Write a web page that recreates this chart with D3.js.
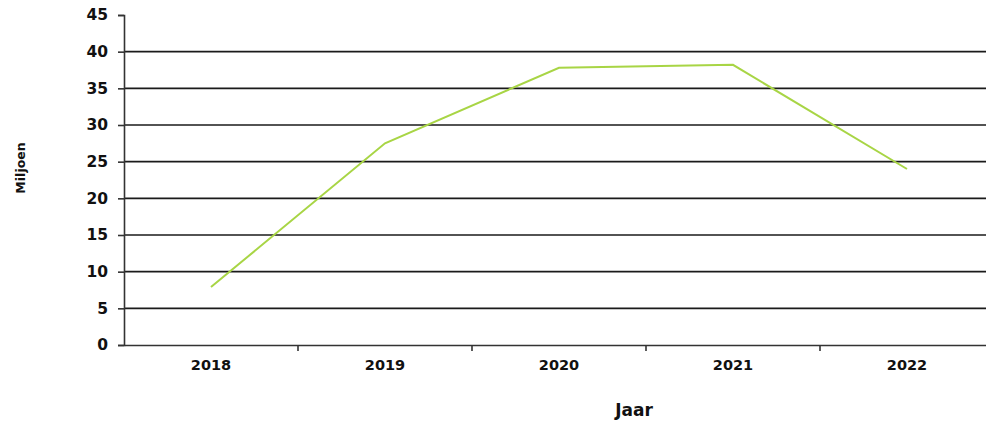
<!DOCTYPE html>
<html><head><meta charset="utf-8">
<script src="https://cdn.jsdelivr.net/npm/d3@7"></script>
<style>body{margin:0;background:#fff;} text{font-family:"DejaVu Sans",Verdana,sans-serif;font-weight:bold;}</style>
</head><body><svg id="c" width="986" height="421"></svg>
<script>
const years = ["2018","2019","2020","2021","2022"];
const values = [7.9, 27.5, 37.8, 38.2, 24.0];
const yTicks = [0,5,10,15,20,25,30,35,40,45];

const svg = d3.select("#c");
const x = d3.scaleBand().domain(years).range([124, 994]);
const y = d3.scaleLinear().domain([0,45]).range([345, 15]);

// gridlines
svg.append("g").selectAll("line").data(yTicks.filter(d=>d>0 && d<45)).join("line")
  .attr("x1",124).attr("x2",994).attr("y1",d=>y(d)).attr("y2",d=>y(d))
  .attr("stroke","#1a1a1a").attr("stroke-width",1.6);

// y axis
const ya = svg.append("g").attr("transform","translate(124,0)")
  .call(d3.axisLeft(y).tickValues(yTicks).tickSize(6).tickPadding(10));
ya.select(".domain").attr("stroke","#333").attr("stroke-width",1.6);
ya.selectAll(".tick line").attr("stroke","#333").attr("stroke-width",1.6);
ya.selectAll("text").attr("font-size",15.5).attr("fill","#111");

// x axis
const xa = svg.append("g").attr("transform","translate(0,345)")
  .call(d3.axisBottom(x).tickSize(0).tickPadding(15));
xa.select(".domain").attr("stroke","#333").attr("stroke-width",1.6);
xa.selectAll("text").attr("font-size",14.5).attr("fill","#111");
svg.append("g").selectAll("line").data(years.slice(1)).join("line")
  .attr("x1",d=>x(d)).attr("x2",d=>x(d)).attr("y1",345).attr("y2",351)
  .attr("stroke","#333").attr("stroke-width",1.6);

// line
const line = d3.line().x((d,i)=>x(years[i])+x.bandwidth()/2).y(d=>y(d));
svg.append("path").datum(values).attr("d",line).attr("fill","none")
  .attr("stroke","#a8d545").attr("stroke-width",2);

// labels
svg.append("text").attr("transform","translate(25,168) rotate(-90)")
  .attr("text-anchor","middle").attr("font-size",12.5).attr("fill","#111").text("Miljoen");
svg.append("text").attr("x",634).attr("y",416).attr("text-anchor","middle")
  .attr("font-size",17).attr("fill","#111").text("Jaar");
</script></body></html>
